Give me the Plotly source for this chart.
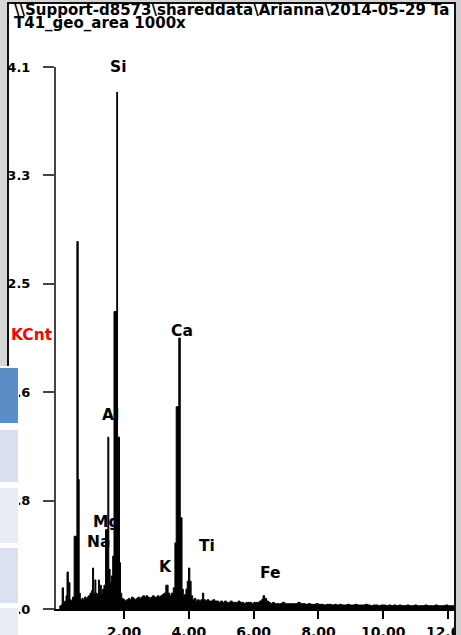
import plotly.graph_objects as go

# ---------------- data ----------------
energy_kev = [
    0.00, 0.05, 0.09, 0.13, 0.17, 0.21, 0.24, 0.28, 0.30, 0.33, 0.37, 0.41,
    0.46, 0.545, 0.585, 0.615, 0.65, 0.70, 0.74, 0.78, 0.82, 0.86, 0.90, 0.95,
    1.00, 1.03, 1.06, 1.10, 1.13, 1.17, 1.21, 1.24, 1.27, 1.30, 1.34, 1.38,
    1.43, 1.50, 1.53, 1.57, 1.61, 1.65, 1.69, 1.775, 1.80, 1.86, 1.89, 1.93,
    1.98, 2.03, 2.08, 2.13, 2.18, 2.23, 2.28, 2.33, 2.38, 2.43, 2.48, 2.53,
    2.58, 2.63, 2.68, 2.73, 2.78, 2.83, 2.88, 2.93, 2.98, 3.03, 3.08, 3.13,
    3.18, 3.23, 3.29, 3.36, 3.41, 3.46, 3.52, 3.57, 3.61, 3.69, 3.735, 3.79,
    3.83, 3.87, 3.91, 3.95, 3.99, 4.03, 4.07, 4.12, 4.17, 4.22, 4.27, 4.32,
    4.37, 4.42, 4.46, 4.51, 4.56, 4.62, 4.68, 4.74, 4.80, 4.86, 4.92, 4.98,
    5.04, 5.10, 5.16, 5.22, 5.28, 5.34, 5.40, 5.46, 5.52, 5.58, 5.64, 5.70,
    5.76, 5.82, 5.88, 5.94, 6.00, 6.06, 6.12, 6.18, 6.24, 6.29, 6.34, 6.40,
    6.46, 6.52, 6.58, 6.64, 6.72, 6.80, 6.88, 6.96, 7.04, 7.12, 7.20, 7.28,
    7.36, 7.44, 7.52, 7.60, 7.68, 7.76, 7.84, 7.92, 8.00, 8.08, 8.16, 8.24,
    8.32, 8.40, 8.48, 8.56, 8.64, 8.72, 8.80, 8.88, 8.96, 9.04, 9.12, 9.20,
    9.28, 9.36, 9.44, 9.52, 9.60, 9.68, 9.76, 9.84, 9.92, 10.00, 10.08, 10.16,
    10.24, 10.32, 10.40, 10.48, 10.56, 10.64, 10.72, 10.80, 10.88, 10.96, 11.04, 11.12,
    11.20, 11.28, 11.36, 11.44, 11.52, 11.60, 11.68, 11.76, 11.84, 11.92, 12.00, 12.08,
    12.16, 12.22,
]
kcnt = [
    0.02, 0.03, 0.16, 0.05, 0.06, 0.10, 0.28, 0.06, 0.20, 0.07, 0.06, 0.09,
    0.55, 2.78, 0.98, 0.12, 0.07, 0.08, 0.07, 0.09, 0.08, 0.09, 0.10, 0.12,
    0.14, 0.31, 0.12, 0.22, 0.12, 0.11, 0.22, 0.13, 0.18, 0.12, 0.15, 0.18,
    0.60, 1.30, 0.30, 0.20, 0.25, 0.40, 2.25, 3.91, 1.30, 0.35, 0.12, 0.08,
    0.07, 0.06, 0.07, 0.08, 0.07, 0.09, 0.08, 0.07, 0.08, 0.09, 0.08, 0.09,
    0.10, 0.09, 0.10, 0.09, 0.08, 0.09, 0.10, 0.09, 0.09, 0.10, 0.09, 0.10,
    0.11, 0.12, 0.18, 0.12, 0.10, 0.12, 0.16, 0.50, 1.53, 2.05, 0.69, 0.15,
    0.10, 0.11, 0.15, 0.21, 0.31, 0.21, 0.10, 0.07, 0.08, 0.06, 0.07, 0.06,
    0.07, 0.12, 0.07, 0.06, 0.07, 0.06, 0.06, 0.07, 0.06, 0.06, 0.05, 0.06,
    0.05, 0.06, 0.05, 0.05, 0.06, 0.05, 0.05, 0.05, 0.06, 0.05, 0.05, 0.04,
    0.05, 0.05, 0.05, 0.04, 0.05, 0.05, 0.05, 0.06, 0.07, 0.10, 0.08, 0.06,
    0.05, 0.04, 0.05, 0.04, 0.04, 0.04, 0.05, 0.04, 0.04, 0.04, 0.04, 0.04,
    0.05, 0.04, 0.04, 0.035, 0.04, 0.035, 0.035, 0.04, 0.035, 0.035, 0.03, 0.035,
    0.035, 0.03, 0.035, 0.03, 0.035, 0.03, 0.03, 0.035, 0.03, 0.03, 0.035, 0.03,
    0.03, 0.03, 0.035, 0.03, 0.025, 0.03, 0.03, 0.025, 0.03, 0.03, 0.025, 0.03,
    0.025, 0.03, 0.025, 0.03, 0.025, 0.025, 0.03, 0.025, 0.025, 0.03, 0.025, 0.025,
    0.025, 0.03, 0.025, 0.025, 0.025, 0.03, 0.025, 0.025, 0.025, 0.03, 0.025, 0.025,
    0.025, 0.025,
]

x_tick_vals = [2, 4, 6, 8, 10, 12]
x_tick_text = ["2.00", "4.00", "6.00", "8.00", "10.00", "12.00"]
y_tick_vals = [0.0, 0.82, 1.64, 2.46, 3.28, 4.10]
y_tick_text = ["0.0", "0.8", "1.6", "2.5", "3.3", "4.1"]

element_names = ["Si", "Ca", "Al", "Mg", "Na", "K", "Ti", "Fe"]
element_label_kev = [1.815, 3.80, 1.57, 1.47, 1.20, 3.28, 4.55, 6.50]
element_label_kcnt = [4.10, 2.10, 1.47, 0.66, 0.51, 0.32, 0.48, 0.27]

title_lines = [
    "\\\\Support-d8573\\shareddata\\Arianna\\2014-05-29 Ta",
    "T41_geo_area 1000x",
]
y_title = "KCnt"

# ---------------- layout geometry (pixels) ----------------
W, H = 461, 635
PL, PR, PT, PB = 56, 455, 67, 609  # plot area edges


def px(x):
    return (x - PL) / (PR - PL)


def py(y):
    return (PB - y) / (PB - PT)


FONT = "DejaVu Sans"

fig = go.Figure()
fig.add_trace(go.Scatter(
    x=energy_kev, y=kcnt, mode="lines", line=dict(shape="hv", color="black", width=1),
    fill="tozeroy", fillcolor="black", hoverinfo="skip", showlegend=False,
))

annotations = []
for name, ex, ey in zip(element_names, element_label_kev, element_label_kcnt):
    annotations.append(dict(x=ex, y=ey, xref="x", yref="y", text=name, showarrow=False,
                            xanchor="center", yanchor="middle",
                            font=dict(family=FONT, size=15.5, color="black", weight="bold")))
annotations.append(dict(x=px(12), y=py(10), xref="paper", yref="paper", text=title_lines[0],
                        showarrow=False, xanchor="left", yanchor="middle",
                        font=dict(family=FONT, size=15, color="black", weight="bold")))
annotations.append(dict(x=px(12), y=py(22.5), xref="paper", yref="paper", text=title_lines[1],
                        showarrow=False, xanchor="left", yanchor="middle",
                        font=dict(family=FONT, size=15, color="black", weight="bold")))
annotations.append(dict(x=px(32), y=py(335), xref="paper", yref="paper", text=y_title,
                        showarrow=False, xanchor="center", yanchor="middle",
                        font=dict(family=FONT, size=15.5, color="#ff0000", weight="bold")))

shapes = []
# white frame interior with dark border
shapes.append(dict(type="rect", xref="paper", yref="paper", layer="below",
                   x0=px(8), x1=px(455), y0=py(3), y1=py(640),
                   fillcolor="white", line=dict(color="#111111", width=2)))
# right gray strip outside the frame
shapes.append(dict(type="rect", xref="paper", yref="paper", layer="above",
                   x0=px(456), x1=px(462), y0=py(-2), y1=py(640),
                   fillcolor="#cfcfcf", line=dict(width=0)))
shapes.append(dict(type="line", xref="paper", yref="paper", layer="above",
                   x0=px(455), x1=px(455), y0=py(3), y1=py(640),
                   line=dict(color="#111111", width=2)))
# left overlay panel cells
cells = [(368, 423, "#5b8ec6"), (430, 482, "#d9dfee"), (488, 543, "#e9ecf4"),
         (548, 603, "#dbe1ef"), (608, 640, "#e9ecf4")]
shapes.append(dict(type="rect", xref="paper", yref="paper", layer="above",
                   x0=px(-2), x1=px(19), y0=py(366), y1=py(640),
                   fillcolor="white", line=dict(width=0)))
for y0, y1, c in cells:
    shapes.append(dict(type="rect", xref="paper", yref="paper", layer="above",
                       x0=px(-2), x1=px(18), y0=py(y0), y1=py(y1),
                       fillcolor=c, line=dict(width=0)))

fig.update_layout(
    width=W, height=H,
    margin=dict(l=PL, r=W - PR, t=PT, b=H - PB, pad=0, autoexpand=False),
    paper_bgcolor="#d6d6d6", plot_bgcolor="rgba(0,0,0,0)",
    showlegend=False,
    annotations=annotations, shapes=shapes,
    xaxis=dict(range=[-0.1, 12.215], showgrid=False, zeroline=False, automargin=False,
               showline=True, linecolor="black", linewidth=2,
               ticks="outside", ticklen=8, tickwidth=2, tickcolor="black",
               tickvals=x_tick_vals, ticktext=x_tick_text, ticklabeloverflow="allow",
               ticklabelstandoff=1,
               tickfont=dict(family=FONT, size=14, color="black", weight="bold")),
    yaxis=dict(range=[0, 4.1], showgrid=False, zeroline=False, automargin=False,
               showline=True, linecolor="#444444", linewidth=2,
               ticks="outside", ticklen=11, tickwidth=2, tickcolor="#444444",
               tickvals=y_tick_vals, ticktext=y_tick_text, ticklabelstandoff=10,
               tickfont=dict(family=FONT, size=13, color="black", weight="bold")),
)

fig.write_html("out.html")
